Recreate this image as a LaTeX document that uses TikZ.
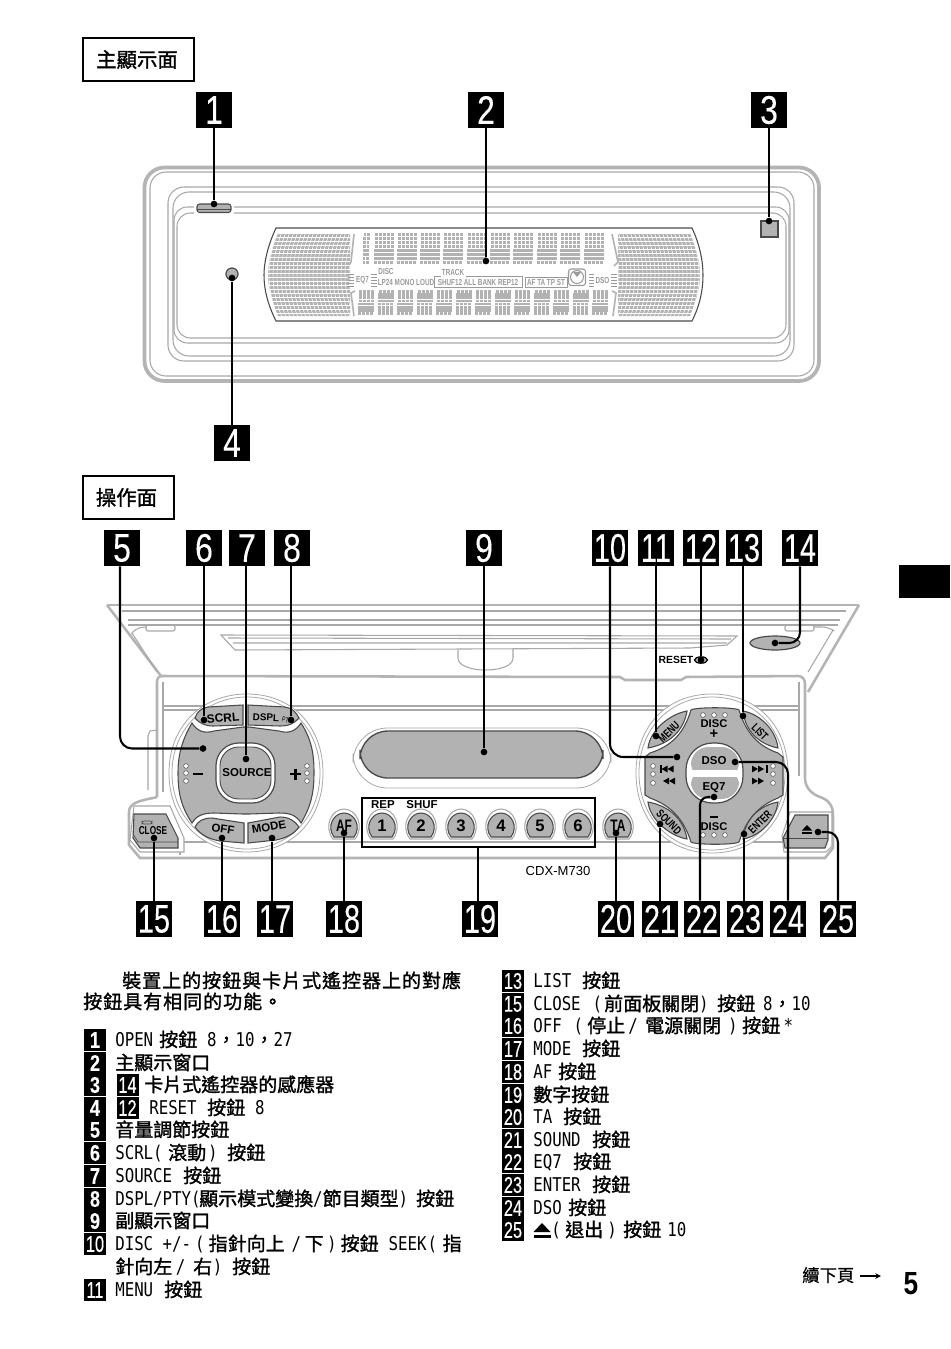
\documentclass[tikz,border=0pt]{standalone}
\usepackage{fontspec}
\usetikzlibrary{calc}
\newfontfamily\cjkf[FakeBold=1.4]{Noto Sans CJK TC}
\newfontfamily\cjkw[LetterSpace=5.2,FakeBold=1.4]{Noto Sans CJK TC}
\newfontfamily\cjkl[FakeBold=0.4]{Noto Sans CJK TC}
\newfontfamily\latf[FakeStretch=0.83]{DejaVu Sans Mono}
\newfontfamily\sansf{Liberation Sans}
\newfontfamily\narf[FakeStretch=0.72]{Liberation Sans}
\newfontfamily\labf[FakeStretch=0.82]{Liberation Sans}
\newfontfamily\labb[FakeStretch=0.8,FakeBold=0.15]{Liberation Sans}
\newfontfamily\labn[FakeStretch=0.72,FakeBold=0.15]{Liberation Sans}
\newfontfamily\labs[FakeStretch=0.72,FakeBold=0.4]{Liberation Sans}
\newdimen\pxu \pxu=0.75pt
\newcommand\gp[1]{\hspace*{#1\pxu}}
\newcommand\lat[1]{{\latf\mdseries #1}}
\definecolor{panelg}{HTML}{B2B2B2}
\definecolor{lineg}{HTML}{B4B4B4}
\definecolor{thing}{HTML}{A8A8A8}
\definecolor{edgeg}{HTML}{4A4A4A}
\definecolor{dimg}{HTML}{9A9A9A}
\tikzset{
  numbig/.style={fill=black,text=white,inner sep=0pt,minimum width=27pt,minimum height=27pt,font=\labb\fontsize{30pt}{30pt}\selectfont},
  numbigt/.style={numbig,font=\labn\fontsize{30pt}{30pt}\selectfont},
  numsm/.style={fill=black,text=white,inner sep=0pt,minimum width=16.5pt,minimum height=16.8pt,font=\labb\bfseries\fontsize{17pt}{17pt}\selectfont},
  numsmt/.style={numsm,font=\labs\fontsize{17pt}{17pt}\selectfont},
  listtxt/.style={anchor=base west,inner sep=0pt,yshift=-5pt,font=\cjkf\fontsize{14.25pt}{14.25pt}\selectfont},
  headbox/.style={draw=black,line width=0.9pt,fill=white,inner sep=0pt,font=\cjkf\fontsize{15.3pt}{15.3pt}\selectfont},
  dotn/.style={circle,fill=black,inner sep=0pt,minimum size=5pt},
  conn/.style={draw=black,line width=1.55pt},
  grayl/.style={draw=lineg,line width=1.9pt},
  thinl/.style={draw=thing,line width=0.8pt},
  btnf/.style={fill=panelg,draw=edgeg,line width=0.8pt},
  btxt/.style={inner sep=0pt,text=black,font=\sansf\bfseries\fontsize{8.6pt}{8.6pt}\selectfont},
  disptxt/.style={inner sep=0pt,text=dimg,font=\narf\bfseries\fontsize{6.6pt}{6.6pt}\selectfont},
}
% segment block of the display (slanted)
\newcommand\dgrid[6]{%
  \foreach \i in {1,...,#3}{\foreach \j in {1,...,#4}{%
    \fill[panelg] ({#1+(\i-1)*#5+(#4-\j)*0.15},{#2+(\j-1)*#6}) rectangle +({#5-0.6},{#6-0.6});}}}
% rounded button with a flat bottom
\newcommand\rbtn[4]{%
  \begin{scope}[shift={(#2,#3)}]
    \draw[thinl,fill=white] (-11,13) .. controls (-21,0) and (-12,-17) .. (0,-17) .. controls (12,-17) and (21,0) .. (11,13) -- cycle;
    \draw[btnf] (-10,11) .. controls (-18,0) and (-10,-13) .. (0,-13) .. controls (10,-13) and (18,0) .. (10,11) -- cycle;
  \end{scope}
  \node[btxt,font=\sansf\bfseries\fontsize{12.5pt}{12.5pt}\selectfont] (#1) at (#2,#3) {#4};}
\newcommand\smallc[2]{\draw[edgeg,line width=0.4pt,fill=white] (#1,#2) circle[radius=2.4];}
\newcommand\tri[3]{\fill[black] (#1,#2) -- ({#1+6*#3},{#2-3.4}) -- ({#1+6*#3},{#2+3.4}) -- cycle;}
\newcommand\ejct[3]{%
  \fill[black] ({#1},{#2-#3*8}) -- ({#1+#3*8.5},{#2+#3*1}) -- ({#1-#3*8.5},{#2+#3*1}) -- cycle;
  \fill[black] ({#1-#3*8.5},{#2+#3*3.5}) rectangle ({#1+#3*8.5},{#2+#3*6.5});}
\newcommand\litem[4]{\node[numsm] (n#1) at (95,#2) {#3}; \node[listtxt] (t#1) at (115,#2) {#4};}
\newcommand\litemt[4]{\node[numsmt] (n#1) at (95,#2) {#3}; \node[listtxt] (t#1) at (115,#2) {#4};}
\newcommand\ritem[4]{\node[numsmt] (n#1) at (513,#2) {#3}; \node[listtxt] (t#1) at (533,#2) {#4};}
\begin{document}
\begin{tikzpicture}[x=0.75pt,y=-0.75pt]
\useasboundingbox (0,0) rectangle (950,1349);
\fill[white] (0,0) rectangle (950,1349);

% ---------- headers and thumb tab
\node[headbox,minimum width=83.2pt,minimum height=32.2pt] (h1) at (138.5,59.5) {主顯示面\gp{3}};
\node[headbox,minimum width=68.2pt,minimum height=32.2pt] (h2) at (128.5,497.5) {操作面\gp{4}};
\fill[black] (899,565) rectangle (950,598);

% ---------- front face
\draw[lineg,line width=2.8pt,rounded corners=15] (144.5,167.5) rectangle (819,381);
\draw[thinl,rounded corners=12] (150,172) rectangle (814,376);
\draw[thinl,rounded corners=12] (168,187) rectangle (794,361);
\draw[thinl,rounded corners=12] (173,192) rectangle (790,356);
\draw[thinl,rounded corners=10] (194,207) -- (174,207) -- (174,343) -- (789,343) -- (789,207) -- (234,207);
\draw[thinl,rounded corners=10] (194,213) -- (177,213) -- (177,338) -- (786,338) -- (786,213) -- (234,213);
\draw[btnf,rounded corners=2] (197,212.5) -- (197,204) -- (231,204) -- (231,212.5) -- cycle;
\draw[edgeg,line width=0.5pt] (197,209) -- (231,209);
\draw[btnf,line width=1pt] (761,221) rectangle (778,237);
\draw[btnf,line width=0.9pt] (232,274) circle[radius=6];

% display window
\draw[edgeg,line width=0.8pt] (276,228) -- (692,228) .. controls (700,245) and (703,262) .. (703,275) .. controls (703,290) and (700,305) .. (692,321) -- (276,321) .. controls (268,305) and (264,290) .. (264,275) .. controls (264,262) and (268,245) .. (276,228) -- cycle;
\begin{scope}
  \clip (278,233) -- (350,233) -- (350,316) -- (278,316) .. controls (270,295) and (268,285) .. (268,275) .. controls (268,262) and (272,248) .. (278,233) -- cycle;
  \fill[panelg] (260,230) rectangle (355,320);
  \foreach \k in {0,...,21}{\draw[white,line width=0.4pt] ({278+4*\k},232) .. controls ({266+4*\k},262) and ({266+4*\k},288) .. ({278+4*\k},317);}
  \foreach \k in {0,...,21}{\draw[white,line width=0.4pt] (262,{233+4*\k}) -- (352,{233+4*\k});}
\end{scope}
\begin{scope}[shift={(968,0)},xscale=-1]
  \clip (278,233) -- (350,233) -- (350,316) -- (278,316) .. controls (270,295) and (268,285) .. (268,275) .. controls (268,262) and (272,248) .. (278,233) -- cycle;
  \fill[panelg] (260,230) rectangle (355,320);
  \foreach \k in {0,...,21}{\draw[white,line width=0.4pt] ({278+4*\k},232) .. controls ({266+4*\k},262) and ({266+4*\k},288) .. ({278+4*\k},317);}
  \foreach \k in {0,...,21}{\draw[white,line width=0.4pt] (262,{233+4*\k}) -- (352,{233+4*\k});}
\end{scope}
\foreach \x in {374,397,420,443,467,490,513,537,560,584}{\dgrid{\x}{233}{5}{8}{4}{4}}
\foreach \x in {358,377.5,397,416.5,436,455.5,475,494.5,514,533.5,553,572.5,592}{\dgrid{\x}{290}{4}{8}{4}{3.2}}
\dgrid{362.5}{233}{2}{8}{3.4}{4}
\draw[panelg,line width=1.2pt] (354,234) -- (351,262) -- (349,265);
\draw[panelg,line width=1.2pt] (355,291) -- (351,293) -- (354,316);
\draw[panelg,line width=1.2pt] (612,234) -- (618,262) -- (614,266);
\draw[panelg,line width=1.2pt] (612,291) -- (616,293) -- (613,316);
\node[disptxt] (dt1) at (362.5,280) {EQ7};
\foreach \y in {274,277,280,283,286}{\draw[dimg,line width=0.5pt] (348,\y) -- (354,\y) (371,\y) -- (377,\y) (589,\y) -- (594,\y) (611,\y) -- (617,\y);}
\node[disptxt] (dt2) at (386,271) {DISC};
\node[disptxt] (dt3) at (406,282) {LP24 MONO LOUD};
\node[disptxt] (dt4) at (453,272) {TRACK};
\node[disptxt] (dt5) at (478,282) {SHUF12 ALL BANK REP12};
\draw[dimg,line width=0.6pt] (441,276) -- (434,276) -- (434,287) -- (522,287) -- (522,276) -- (466,276);
\node[disptxt,draw=dimg,line width=0.5pt,inner xsep=1.5pt,inner ysep=1.5pt] (dt6) at (546,282) {AF TA TP ST};
\draw[dimg,line width=0.8pt,rounded corners=2] (568.5,269) rectangle (585.5,285.5);
\draw[dimg,line width=0.8pt] (577,277) circle[radius=6.5];
\fill[dimg] (577,277) -- (573,272) -- (581,272) -- cycle;
\node[disptxt] (dt7) at (602.5,280) {DSO};

% ---------- control panel: flap
\draw[grayl] (107,605) -- (859,605);
\draw[grayl] (107,605) -- (161,676);
\draw[grayl] (859,605) -- (808,692);
\draw[thinl] (122,611) -- (846,611);
\draw[thinl] (128,620) -- (840,620);
\draw[thinl] (128,625) -- (838,625);
\draw[thinl] (132,633) -- (157,672);
\draw[thinl,rounded corners=5] (132,633) -- (135,628) -- (146,627);
\draw[thinl,rounded corners=1.5] (146,625) rectangle (175,631);
\draw[thinl,rounded corners=1.5] (785,625) rectangle (814,631);
\draw[thinl] (833,630) -- (808,672);
\draw[thinl,rounded corners=5] (833,630) -- (829,627) -- (814,627);
\draw[thinl] (221,635) -- (737,636) -- (727,645) -- (690,648) -- (235,650) -- cycle;
\draw[thinl] (228,638) -- (731,639) (233,643) -- (727,643);
\draw[thinl] (458,650) -- (458,658) .. controls (458,666) and (472,670) .. (485,670) .. controls (500,670) and (513,666) .. (513,658) -- (513,648);
% body
\draw[grayl] (157,797) -- (157,682) .. controls (157,678) and (159,676) .. (163,676) -- (620,677) -- (625,680) -- (681,680) -- (686,677) -- (798,676) .. controls (802,676) and (805,679) .. (805,684) -- (805,778) .. controls (805,788) and (812,794) .. (820,797) .. controls (829,800) and (833,806) .. (833,815) -- (833,848) -- (825,858) -- (140,858) -- (129,845) -- (129,812) .. controls (129,803) and (140,801) .. (148,799) .. controls (154,798) and (157,797) .. (157,797);
\draw[thinl] (163,682) -- (163,792);
\draw[thinl] (799,682) -- (799,776);
\draw[thinl] (148,790) -- (148,736) -- (150,731) -- (157,730);
\draw[thinl] (163,706) -- (799,706) (163,710) -- (799,710);
\draw[thinl] (180,842) -- (790,842) (180,842) -- (180,855);

% CLOSE
\draw[thinl,fill=white] (134,806) -- (170,806) -- (184,838) -- (184,852) -- (140,852) -- (130,840) -- cycle;
\draw[btnf] (134,814) -- (166,814) -- (178,838) -- (178,848) -- (140,848) -- (133,838) -- cycle;
\draw[edgeg,line width=0.5pt] (133,834) -- (138,842) -- (178,842);
\draw[edgeg,line width=0.5pt,rounded corners=1.5] (142,821) rectangle (152,824);
\node[btxt,font=\narf\bfseries\fontsize{8.6pt}{8.6pt}\selectfont] (tclose) at (153,831) {CLOSE};
% eject
\draw[thinl,fill=white] (790,812) -- (832,812) -- (832,846) -- (826,852) -- (784,852) -- (782,836) -- cycle;
\draw[btnf] (795,815) -- (828,815) -- (828,840) -- (825,848) -- (785,848) -- (783,838) -- cycle;
\draw[edgeg,line width=0.5pt] (783,838) -- (828,838);
\ejct{807}{830}{0.62}

% left knob
\foreach \r/\q in {0/0,3/3}{%
\draw[thinl,fill=white,line width=0.6pt] (247,{694+\r}) .. controls ({292-\q},{694+\r}) and ({323-\r},{726+\q}) .. ({323-\r},773) .. controls ({323-\r},{820-\q}) and ({292-\q},{852-\r}) .. (247,{852-\r}) .. controls ({202+\q},{852-\r}) and ({169+\r},{820-\q}) .. ({169+\r},773) .. controls ({169+\r},{726+\q}) and ({202+\q},{694+\r}) .. (247,{694+\r}) -- cycle;}
\draw[btnf] (192,723) .. controls (197,731) and (204,734) .. (214,731) -- (243,727) -- (249,727) -- (279,731) .. controls (289,734) and (296,731) .. (301,723) .. controls (312,740) and (314,755) .. (314,773) .. controls (314,795) and (310,808) .. (301,823) .. controls (296,815) and (290,813) .. (279,813) -- (249,814) -- (243,814) -- (214,813) .. controls (204,813) and (197,815) .. (192,823) .. controls (182,808) and (178,795) .. (178,773) .. controls (178,755) and (182,740) .. (192,723) -- cycle;
\draw[btnf] (195,718) .. controls (197,712) and (201,708) .. (208,707) -- (243,705) -- (243,725) -- (213,726) .. controls (205,726) and (199,723) .. (195,718) -- cycle;
\draw[btnf] (248,705) -- (285,707) .. controls (292,708) and (296,712) .. (299,718) .. controls (295,723) and (289,726) .. (280,726) -- (248,725) -- cycle;
\draw[btnf] (195,827) .. controls (198,821) and (203,818) .. (212,818) -- (244,823) -- (244,843) -- (220,841) .. controls (208,839) and (200,834) .. (195,827) -- cycle;
\draw[btnf] (248,823) -- (280,817) .. controls (289,817) and (295,821) .. (299,827) .. controls (294,834) and (286,838) .. (276,840) -- (248,843) -- cycle;
\draw[edgeg,line width=0.9pt,fill=white,rounded corners=17] (216,743) rectangle (275,803);
\draw[btnf,line width=0.7pt,rounded corners=14] (220,747) rectangle (271,799);
\node[btxt,rotate=5,font=\sansf\bfseries\fontsize{9pt}{9pt}\selectfont] (tscrl) at (223,718) {SCRL};
\node[btxt,font=\sansf\bfseries\fontsize{7.4pt}{7.4pt}\selectfont,rotate=-3] (tdspl) at (266,717.5) {DSPL};
\node[btxt,font=\narf\fontsize{5.5pt}{5.5pt}\selectfont,rotate=-15] (tpty) at (287,720) {PTY};
\node[btxt] (tsrc) at (247,773) {SOURCE};
\node[btxt,rotate=-8] (toff) at (223,829) {OFF};
\node[btxt,rotate=10] (tmode) at (269,827) {MODE};
\draw[black,line width=1.8pt] (193,774) -- (203,774);
\draw[black,line width=1.8pt] (290,774) -- (301,774) (295.5,768.5) -- (295.5,779.5);
\foreach \y in {766,773,781}{\smallc{186}{\y}\smallc{307}{\y}}

% sub display
\draw[thinl,fill=white,line width=0.6pt,rounded corners=26] (353,728) rectangle (611,788);
\draw[btnf,line width=1pt,rounded corners=21] (360,731) rectangle (603,778);

% number keys
\rbtn{tbaf}{344}{826}{{\narf AF}}
\rbtn{tb1}{382}{826}{1}
\rbtn{tb2}{421}{826}{2}
\rbtn{tb3}{461}{826}{3}
\rbtn{tb4}{501}{826}{4}
\rbtn{tb5}{540}{826}{5}
\rbtn{tb6}{578}{826}{6}
\rbtn{tbta}{618}{826}{{\narf TA}}
\node[btxt] (trep) at (383,805) {REP};
\node[btxt] (tshuf) at (422,805) {SHUF};
\node[draw=black,line width=1.5pt,inner sep=0pt,minimum width=174.5pt,minimum height=36.5pt] (numframe) at (478.5,822.5) {};
\node[inner sep=0pt,font=\sansf\fontsize{9.8pt}{9.8pt}\selectfont] (tmodel) at (558,871) {CDX-M730};

% right knob
\foreach \r/\q in {0/0,3/3}{%
\draw[thinl,fill=white,line width=0.6pt] (712,{694+\r}) .. controls ({757-\q},{694+\r}) and ({788-\r},{726+\q}) .. ({788-\r},773) .. controls ({788-\r},{820-\q}) and ({757-\q},{853-\r}) .. (712,{853-\r}) .. controls ({667+\q},{853-\r}) and ({636+\r},{820-\q}) .. ({636+\r},773) .. controls ({636+\r},{726+\q}) and ({667+\q},{694+\r}) .. (712,{694+\r}) -- cycle;}
\draw[btnf] (691,710) .. controls (695,707) and (735,707) .. (739,710) .. controls (746,733) and (758,746) .. (778,753) -- (783,757) -- (783,795) -- (778,798) .. controls (758,806) and (746,820) .. (739,842) .. controls (735,845) and (695,845) .. (691,842) .. controls (684,820) and (672,806) .. (650,798) -- (645,795) -- (645,757) -- (650,753) .. controls (672,746) and (684,733) .. (691,710) -- cycle;
\draw[btnf] (648,748) .. controls (650,730) and (670,714) .. (687,711) .. controls (684,730) and (670,744) .. (648,748) -- cycle;
\draw[btnf] (743,711) .. controls (760,714) and (776,730) .. (778,748) .. controls (758,744) and (745,730) .. (743,711) -- cycle;
\draw[btnf] (648,802) .. controls (670,806) and (684,820) .. (687,839) .. controls (670,836) and (650,820) .. (648,802) -- cycle;
\draw[btnf] (778,802) .. controls (776,820) and (760,836) .. (743,839) .. controls (745,820) and (758,806) .. (778,802) -- cycle;
\draw[edgeg,line width=0.9pt,fill=white,rounded corners=20] (686,743) rectangle (743,803);
\fill[panelg,rounded corners=13] (691,780) -- (691,747) -- (739,747) -- (739,780) -- cycle;
\fill[panelg,rounded corners=13] (691,768) -- (691,799) -- (739,799) -- (739,768) -- cycle;
\fill[white] (690,770) rectangle (740,777);
\node[btxt] (tdso) at (714,761) {DSO};
\node[btxt] (teq) at (714,788) {EQ7};
\node[btxt,font=\sansf\bfseries\fontsize{8.4pt}{8.4pt}\selectfont] (tdiscp) at (714,724) {DISC};
\node[btxt,font=\sansf\bfseries\fontsize{11pt}{11pt}\selectfont] (tplus) at (714,734) {+};
\node[btxt,font=\sansf\bfseries\fontsize{8.4pt}{8.4pt}\selectfont] (tdiscm) at (714,827) {DISC};
\draw[black,line width=1.1pt] (710,817) -- (718,817);
\foreach \x in {703,714,725}{\smallc{\x}{715}\smallc{\x}{835}}
\foreach \y in {766,774,783}{\smallc{653}{\y}\smallc{773}{\y}}
\node[btxt,rotate=45,font=\narf\bfseries\fontsize{8.6pt}{8.6pt}\selectfont] (tmenu) at (669,732) {MENU};
\node[btxt,rotate=-45,font=\narf\bfseries\fontsize{8.6pt}{8.6pt}\selectfont] (tlist) at (760,732) {LIST};
\node[btxt,rotate=-45,font=\narf\bfseries\fontsize{8.6pt}{8.6pt}\selectfont] (tsound) at (669,822) {SOUND};
\node[btxt,rotate=45,font=\narf\bfseries\fontsize{8.6pt}{8.6pt}\selectfont] (tenter) at (760,822) {ENTER};
\fill[black] (660,765) rectangle (661.5,773);
\tri{661.5}{769}{1}\tri{667.5}{769}{1}\tri{663}{781}{1}\tri{669}{781}{1}
\tri{758}{769}{-1}\tri{764}{769}{-1}\fill[black] (766,765) rectangle (767.5,773);
\tri{758}{781}{-1}\tri{764}{781}{-1}

% reset and sensor on flap
\node[inner sep=0pt,font=\sansf\bfseries\fontsize{7.8pt}{7.8pt}\selectfont] (treset) at (676,660) {RESET};
\draw[black,line width=0.9pt,fill=panelg] (701,660) ellipse[x radius=6.5,y radius=3.2];
\draw[btnf,line width=0.9pt] (775,643) ellipse[x radius=25,y radius=7];

% ---------- number labels, upper
\node[numbig] (l1) at (214,110) {1};
\node[numbig] (l2) at (486,110) {2};
\node[numbig] (l3) at (769,110) {3};
\node[numbig] (l4) at (232,443) {4};
\node[dotn] (d1) at (214,204) {};
\node[dotn] (d2) at (486,261) {};
\node[dotn] (d3) at (769,221) {};
\node[dotn] (d4) at (232,278) {};
\draw[conn] (l1) -- (d1);
\draw[conn] (l2) -- (d2);
\draw[conn] (l3) -- (d3);
\draw[conn] (l4) -- (d4);

% ---------- number labels, lower
\node[numbig] (l5) at (122,548) {5};
\node[numbig] (l6) at (204,548) {6};
\node[numbig] (l7) at (247,548) {7};
\node[numbig] (l8) at (292,548) {8};
\node[numbig] (l9) at (484,548) {9};
\node[numbigt] (l10) at (610,548) {10};
\node[numbigt] (l11) at (656,548) {11};
\node[numbigt] (l12) at (701,548) {12};
\node[numbigt] (l13) at (744,548) {13};
\node[numbigt] (l14) at (800,548) {14};
\node[numbigt] (l15) at (154,919) {15};
\node[numbigt] (l16) at (222,919) {16};
\node[numbigt] (l17) at (275,919) {17};
\node[numbigt] (l18) at (344,919) {18};
\node[numbigt] (l19) at (480,919) {19};
\node[numbigt] (l20) at (616,919) {20};
\node[numbigt] (l21) at (660,919) {21};
\node[numbigt] (l22) at (702,919) {22};
\node[numbigt] (l23) at (745,919) {23};
\node[numbigt] (l24) at (788,919) {24};
\node[numbigt] (l25) at (838,919) {25};
\node[dotn] (d5) at (203,748.5) {};
\node[dotn] (d6) at (204,720) {};
\node[dotn] (d7) at (246,759) {};
\node[dotn] (d8) at (291,720) {};
\node[dotn] (d9) at (484,752) {};
\node[dotn] (d10) at (677,757) {};
\node[dotn] (d11) at (656,736) {};
\node[dotn] (d12) at (701,660) {};
\node[dotn] (d13) at (743,716) {};
\node[dotn] (d14) at (775,643) {};
\node[dotn] (d15) at (154,838) {};
\node[dotn] (d16) at (222,838) {};
\node[dotn] (d17) at (272,838) {};
\node[dotn] (d18) at (344,833) {};
\node[dotn] (d20) at (616,833) {};
\node[dotn] (d21) at (660,824) {};
\node[dotn] (d22) at (714,797) {};
\node[dotn] (d23) at (744,834) {};
\node[dotn] (d24) at (735,762) {};
\node[dotn] (d25) at (818,832) {};
\draw[conn,rounded corners=9pt] (d5) -| ([xshift=-1.5pt]l5.south);
\draw[conn] (d6) -- (d6 |- l6.south);
\draw[conn] (d7) -- (d7 |- l7.south);
\draw[conn] (d8) -- (d8 |- l8.south);
\draw[conn] (d9) -- (l9);
\draw[conn,rounded corners=10pt] (d10) -| (l10.south);
\draw[conn] (d11) -- (l11);
\draw[conn] (d12) -- (l12);
\draw[conn] (d13) -- (d13 |- l13.south);
\draw[conn,rounded corners=8pt] (d14) -| (l14.south);
\draw[conn] (d15) -- (l15);
\draw[conn] (d16) -- (l16);
\draw[conn] (d17) -- (d17 |- l17.north);
\draw[conn] (d18) -- (l18);
\draw[conn] ([xshift=-1.5pt]l19.north) -- ([xshift=-1.5pt]l19.north |- numframe.south);
\draw[conn] (d20) -- (l20);
\draw[conn] (d21) -- (l21);
\draw[conn,rounded corners=6pt] (d22) -| ([xshift=-1.5pt]l22.north);
\draw[conn] (d23) -- (d23 |- l23.north);
\draw[conn,rounded corners=9pt] (d24) -| (l24.north);
\draw[conn,rounded corners=8pt] (d25) -| (l25.north);

% ---------- intro text
\node[listtxt,font=\cjkw\fontsize{14.25pt}{14.25pt}\selectfont] (in1) at (122,981) {裝置上的按鈕與卡片式遙控器上的對應};
\node[listtxt,font=\cjkw\fontsize{14.25pt}{14.25pt}\selectfont] (in2) at (83,1002) {按鈕具有相同的功能。};

% ---------- list, left column
\litem{1}{1040}{1}{\lat{OPEN}\gp{6}按鈕\gp{10}\lat{8}，\lat{10}，\lat{27}}
\litem{2}{1063}{2}{主顯示窗口}
\node[numsm] (n3) at (95,1085) {3};
\node[numsmt] (n3b) at (127.5,1085) {14};
\node[listtxt] (t3) at (144,1085) {卡片式遙控器的感應器};
\node[numsm] (n4) at (95,1108) {4};
\node[numsmt] (n4b) at (127.5,1108) {12};
\node[listtxt] (t4) at (149,1108) {\lat{RESET}\gp{10.5}按鈕\gp{10}\lat{8}};
\litem{5}{1130}{5}{音量調節按鈕}
\litem{6}{1153}{6}{\lat{SCRL(}\gp{5.5}滾動\gp{2}\lat{)}\gp{9.5}按鈕}
\litem{7}{1176}{7}{\lat{SOURCE}\gp{11}按鈕}
\litem{8}{1199}{8}{\lat{DSPL/PTY(}\gp{-1.5}顯示模式變換\lat{/}節目類型\lat{)}\gp{8}按鈕}
\litem{9}{1221}{9}{副顯示窗口}
\litemt{10}{1244}{10}{\lat{DISC +/-}\gp{4}\lat{(}\gp{4}指針向上\gp{7}\lat{/}\gp{3.5}下\gp{3.5}\lat{)}\gp{4}按鈕\gp{10}\lat{SEEK}\gp{1}\lat{(}\gp{5.5}指}
\node[listtxt] (t10b) at (115,1267) {針向左\gp{3.5}\lat{/}\gp{8}右\gp{0.5}\lat{)}\gp{10}按鈕};
\litemt{11}{1290}{11}{\lat{MENU}\gp{11}按鈕}

% ---------- list, right column
\ritem{13}{981}{13}{\lat{LIST}\gp{11}按鈕}
\ritem{15}{1004}{15}{\lat{CLOSE}\gp{12}\lat{(}\gp{2}前面板關閉\lat{)}\gp{8.5}按鈕\gp{8}\lat{8}，\lat{10}}
\ritem{16}{1026}{16}{\lat{OFF}\gp{12}\lat{(}\gp{4}停止\gp{3}\lat{/}\gp{7.5}電源關閉\gp{7}\lat{)}\gp{4.5}按鈕\gp{3.5}\lat{*}}
\ritem{17}{1049}{17}{\lat{MODE}\gp{11}按鈕}
\ritem{18}{1072}{18}{\lat{AF}\gp{6}按鈕}
\ritem{19}{1095}{19}{數字按鈕}
\ritem{20}{1117}{20}{\lat{TA}\gp{11}按鈕}
\ritem{21}{1140}{21}{\lat{SOUND}\gp{11.5}按鈕}
\ritem{22}{1162}{22}{\lat{EQ7}\gp{11.5}按鈕}
\ritem{23}{1185}{23}{\lat{ENTER}\gp{11.5}按鈕}
\ritem{24}{1208}{24}{\lat{DSO}\gp{6.5}按鈕}
\node[numsmt] (n25) at (513,1230) {25};
\ejct{542}{1231}{1}
\node[listtxt] (t25) at (551,1230) {\lat{(}\gp{4.5}退出\gp{4}\lat{)}\gp{6.5}按鈕\gp{6}\lat{10}};

% ---------- footer
\node[listtxt,font=\cjkl\fontsize{13pt}{13pt}\selectfont] (tnext) at (802,1275) {續下頁};
\coordinate (arrs) at (860,1276);
\coordinate (arre) at (881,1276);
\draw[black,line width=0.9pt,-stealth] (arrs) -- (arre);
\node[inner sep=0pt,font=\labf\bfseries\fontsize{24pt}{24pt}\selectfont] (pnum) at (911,1284) {5};
\end{tikzpicture}
\end{document}
